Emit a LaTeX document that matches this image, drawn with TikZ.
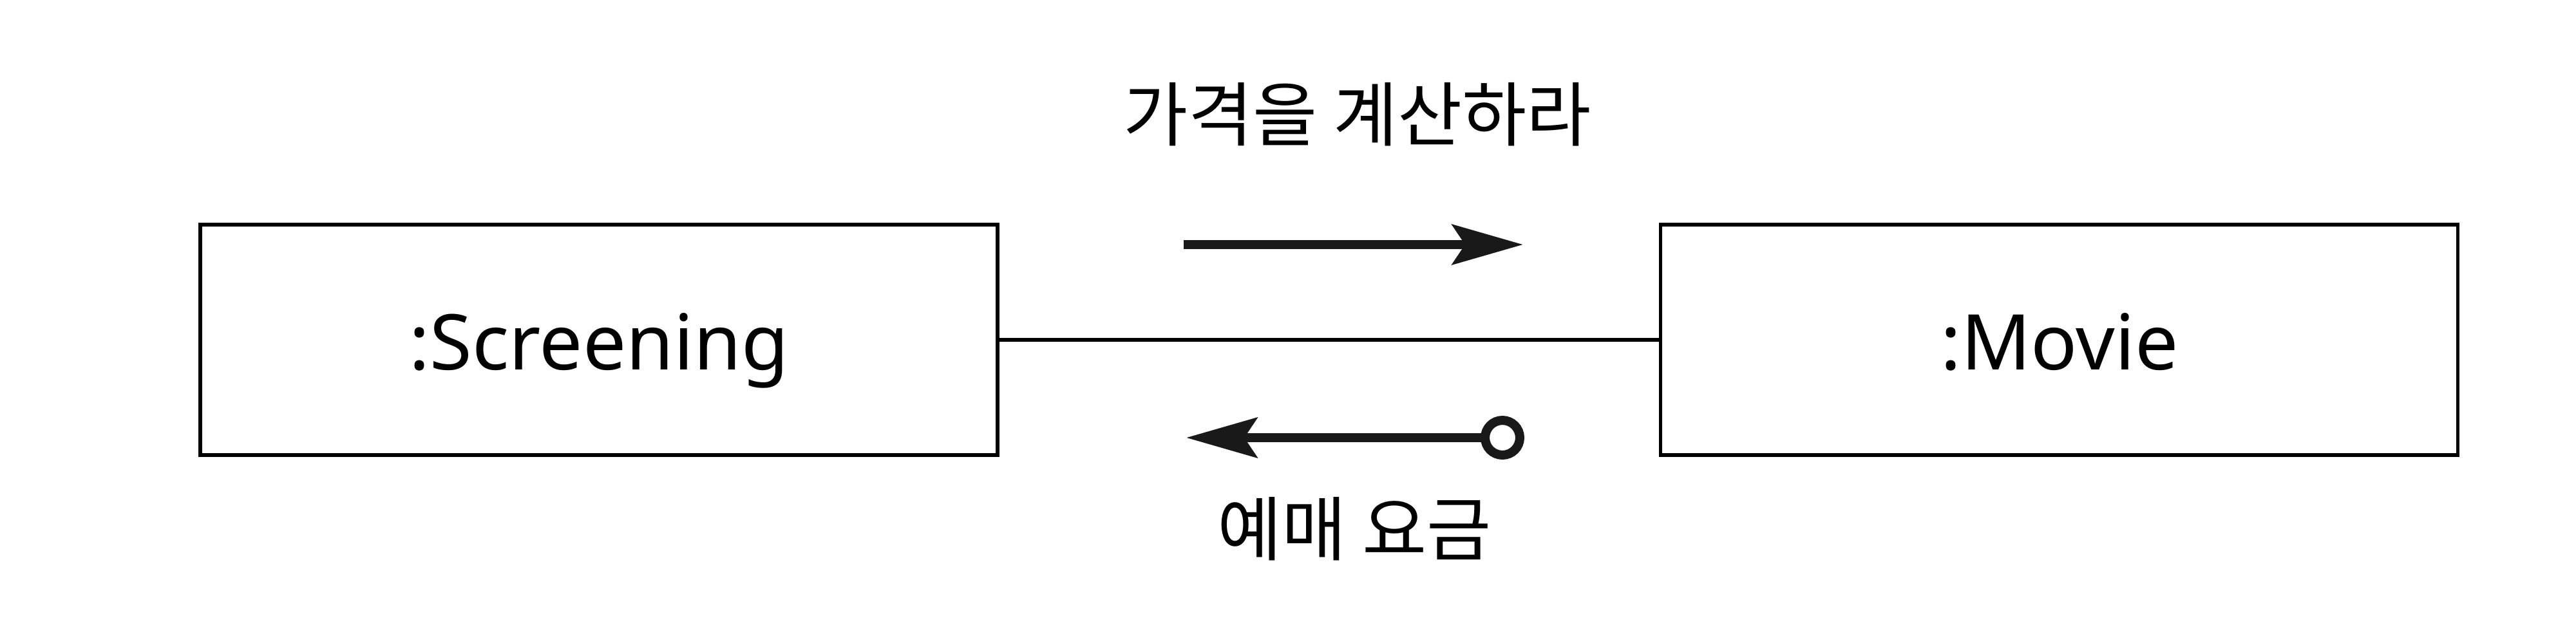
\documentclass[tikz,border=0pt]{standalone}
\usepackage{fontspec}
\setmainfont{Noto Sans}
\newfontfamily\krfont{Noto Sans CJK KR}
\usepackage{tikz}
\usetikzlibrary{positioning, arrows.meta}

\begin{document}
\begin{tikzpicture}[
  obj/.style={rectangle, draw=black, line width=1.6pt, minimum width=12.38cm, minimum height=3.58cm, inner sep=0pt, font=\fontsize{34}{40}\selectfont, text height=0.92cm, text depth=0pt},
  link/.style={line width=1.8pt, draw=black},
  msg/.style={line width=4pt, draw=black!90, -{Stealth[length=1.1cm, width=0.62cm, inset=0.2cm]}},
  ret/.style={line width=4pt, draw=black!90, {Circle[open, length=0.68cm, width=0.68cm]}-{Stealth[length=1.1cm, width=0.62cm, inset=0.2cm]}},
  lbl/.style={font=\krfont\fontsize{31}{36}\selectfont, inner sep=0pt}
]
  \useasboundingbox (0,0) rectangle (40,-9.98);

  % 객체
  \node[obj] (scr) at (9.30,-5.28) {:Screening};
  \node[obj, right=10.24cm of scr] (mov) {:Movie};
  \draw[link] (scr) -- (mov);

  % 메시지
  \coordinate (callS) at (18.38,-3.80);
  \coordinate (callE) at (23.65,-3.80);
  \draw[msg] (callS) -- (callE);
  \node[lbl] (callL) at (21.08,-1.78) {가격을 계산하라};

  % 반환
  \coordinate (retS) at (23.67,-6.80);
  \coordinate (retE) at (18.42,-6.80);
  \draw[ret] (retS) -- (retE);
  \node[lbl] (retL) at (21.03,-8.22) {예매 요금};
\end{tikzpicture}
\end{document}
